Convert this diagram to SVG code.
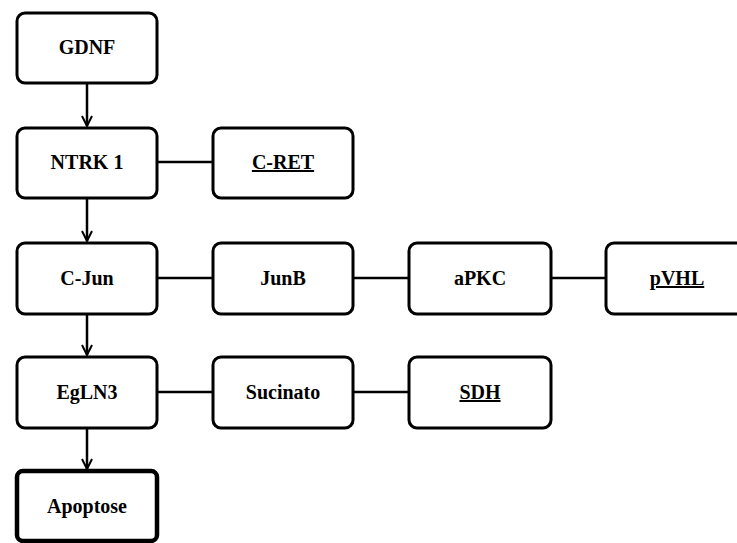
<svg xmlns="http://www.w3.org/2000/svg" width="737" height="543" viewBox="0 0 737 543">
<defs>
<marker id="arr" viewBox="0 0 12 12" refX="11" refY="6" markerWidth="12" markerHeight="12" markerUnits="userSpaceOnUse" orient="auto">
<path d="M1,1 L11,6 L1,11" fill="none" stroke="#000" stroke-width="2"/>
</marker>
<style>
.box{fill:#fff;stroke:#000;stroke-width:3}
.thick{stroke-width:4.5}
.lbl{font-weight:bold;font-size:20px;text-anchor:middle;fill:#000}
.u{text-decoration:underline}
.c{stroke:#000;stroke-width:2.5;fill:none}
</style>
</defs>
<rect width="737" height="543" fill="#fff"/>
<g id="connectors">
<line class="c" x1="87" y1="83" x2="87" y2="126" marker-end="url(#arr)"/>
<line class="c" x1="87" y1="198" x2="87" y2="241" marker-end="url(#arr)"/>
<line class="c" x1="87" y1="314" x2="87" y2="355" marker-end="url(#arr)"/>
<line class="c" x1="87" y1="428" x2="87" y2="469" marker-end="url(#arr)"/>
<line class="c" x1="157" y1="162" x2="213" y2="162"/>
<line class="c" x1="157" y1="278" x2="213" y2="278"/>
<line class="c" x1="353" y1="278" x2="409" y2="278"/>
<line class="c" x1="550" y1="278" x2="606" y2="278"/>
<line class="c" x1="157" y1="392" x2="213" y2="392"/>
<line class="c" x1="353" y1="392" x2="409" y2="392"/>
</g>
<g font-family="'Liberation Serif', 'Times New Roman', 'DejaVu Serif', serif">
<g id="gdnf"><rect class="box" x="17" y="13" width="140" height="70" rx="8"/><text class="lbl" x="87" y="54">GDNF</text></g>
<g id="ntrk1"><rect class="box" x="17" y="128" width="140" height="70" rx="8"/><text class="lbl" x="87" y="169">NTRK 1</text></g>
<g id="cret"><rect class="box" x="213" y="128" width="140" height="70" rx="8"/><text class="lbl u" x="283" y="169">C-RET</text></g>
<g id="cjun"><rect class="box" x="17" y="243" width="140" height="71" rx="8"/><text class="lbl" x="87" y="285">C-Jun</text></g>
<g id="junb"><rect class="box" x="213" y="243" width="140" height="71" rx="8"/><text class="lbl" x="283" y="285">JunB</text></g>
<g id="apkc"><rect class="box" x="409" y="243" width="142" height="71" rx="8"/><text class="lbl" x="480" y="285">aPKC</text></g>
<g id="pvhl"><rect class="box" x="606" y="243" width="142" height="71" rx="8"/><text class="lbl u" x="677" y="285">pVHL</text></g>
<g id="egln3"><rect class="box" x="17" y="357" width="140" height="71" rx="8"/><text class="lbl" x="87" y="399">EgLN3</text></g>
<g id="sucinato"><rect class="box" x="213" y="357" width="140" height="71" rx="8"/><text class="lbl" x="283" y="399">Sucinato</text></g>
<g id="sdh"><rect class="box" x="409" y="357" width="142" height="71" rx="8"/><text class="lbl u" x="480" y="399">SDH</text></g>
<g id="apoptose"><rect class="box thick" x="17" y="471" width="140" height="70" rx="6"/><text class="lbl" x="87" y="513">Apoptose</text></g>
</g>
</svg>
